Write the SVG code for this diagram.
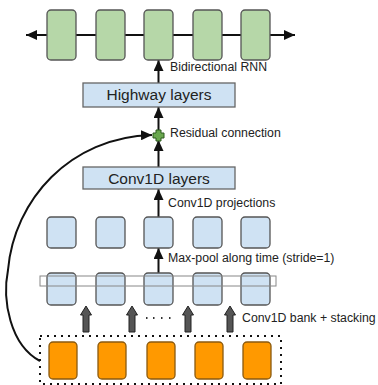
<svg xmlns="http://www.w3.org/2000/svg" width="378" height="385" viewBox="0 0 378 385">
<defs>
<style>
text{font-family:"Liberation Sans",Arial,sans-serif;fill:#222}
.lbl{font-size:12.3px}
.big{font-size:15.5px}
.green{fill:#b6d7a8;stroke:#555;stroke-width:1.3}
.blue{fill:#cfe2f3;stroke:#555;stroke-width:1.3}
.orange{fill:#ff9900;stroke:#8a5a10;stroke-width:1.3}
.layer{fill:#cfe2f3;stroke:#666;stroke-width:1.3}
.line{fill:none;stroke:#111;stroke-width:2}
.gray{fill:#555;stroke:#222;stroke-width:1}
</style>
<marker id="ah" markerUnits="userSpaceOnUse" markerWidth="12" markerHeight="10" refX="11" refY="5" orient="auto">
<path d="M0,0 L11,5 L0,10 z" fill="#111"/>
</marker>
</defs>
<rect width="378" height="385" fill="#fff"/>

<g id="connectors">
<line class="line" x1="47" y1="35" x2="26" y2="35" marker-end="url(#ah)"/>
<line class="line" x1="270" y1="35" x2="295" y2="35" marker-end="url(#ah)"/>
<line class="line" x1="76" y1="35" x2="96" y2="35"/>
<line class="line" x1="125" y1="35" x2="144" y2="35"/>
<line class="line" x1="173" y1="35" x2="193" y2="35"/>
<line class="line" x1="222" y1="35" x2="241" y2="35"/>
<line class="line" x1="158.5" y1="83" x2="158.5" y2="60" marker-end="url(#ah)"/>
<line class="line" x1="158.5" y1="130" x2="158.5" y2="107" marker-end="url(#ah)"/>
<line class="line" x1="158.5" y1="167" x2="158.5" y2="140" marker-end="url(#ah)"/>
<line class="line" x1="158.5" y1="217" x2="158.5" y2="189" marker-end="url(#ah)"/>
<line class="line" x1="158.5" y1="273" x2="158.5" y2="248" marker-end="url(#ah)"/>
<path class="line" d="M40,361 C10,345 2,300 8,270 C14,200 70,137 152,135" marker-end="url(#ah)"/>
<g id="bank-arrows">
<path class="gray" d="M86,306 L91.5,315 L89,315 L89,332 L83,332 L83,315 L80.5,315 z"/>
<path class="gray" d="M132,306 L137.5,315 L135,315 L135,332 L129,332 L129,315 L126.5,315 z"/>
<path class="gray" d="M188,306 L193.5,315 L191,315 L191,332 L185,332 L185,315 L182.5,315 z"/>
<path class="gray" d="M230,306 L235.5,315 L233,315 L233,332 L227,332 L227,315 L224.5,315 z"/>
</g>
</g>

<g id="rnn">
<rect class="green" x="47" y="10" width="29" height="50" rx="4"/>
<rect class="green" x="96" y="10" width="29" height="50" rx="4"/>
<rect class="green" x="144" y="10" width="29" height="50" rx="4"/>
<rect class="green" x="193" y="10" width="29" height="50" rx="4"/>
<rect class="green" x="241" y="10" width="29" height="50" rx="4"/>
<text class="lbl" x="170" y="71">Bidirectional RNN</text>
</g>

<g id="highway">
<rect class="layer" x="83" y="83" width="152" height="24"/>
<text class="big" x="159" y="100" text-anchor="middle">Highway layers</text>
</g>

<g id="residual">
<path d="M156,130 h5 v3 h3 v5 h-3 v3 h-5 v-3 h-3 v-5 h3 z" fill="#6aa84f" stroke="#2d5a1e" stroke-width="1"/>
<text class="lbl" x="170" y="137">Residual connection</text>
</g>

<g id="conv1d-layers">
<rect class="layer" x="83" y="167" width="152" height="22"/>
<text class="big" x="159" y="183.5" text-anchor="middle">Conv1D layers</text>
</g>

<g id="projections">
<text class="lbl" x="168" y="207">Conv1D projections</text>
<rect class="blue" x="47" y="217" width="29" height="31" rx="4"/>
<rect class="blue" x="96" y="217" width="29" height="31" rx="4"/>
<rect class="blue" x="144" y="217" width="29" height="31" rx="4"/>
<rect class="blue" x="193" y="217" width="29" height="31" rx="4"/>
<rect class="blue" x="241" y="217" width="29" height="31" rx="4"/>
</g>

<g id="maxpool">
<text class="lbl" x="168" y="262">Max-pool along time (stride=1)</text>
<rect class="blue" x="47" y="273" width="29" height="32" rx="4"/>
<rect class="blue" x="96" y="273" width="29" height="32" rx="4"/>
<rect class="blue" x="144" y="273" width="29" height="32" rx="4"/>
<rect class="blue" x="193" y="273" width="29" height="32" rx="4"/>
<rect class="blue" x="241" y="273" width="29" height="32" rx="4"/>
<rect x="40" y="276" width="236" height="10" fill="none" stroke="#888" stroke-width="1"/>
</g>

<g id="bank">
<text class="lbl" x="242" y="322">Conv1D bank + stacking</text>
<path d="M146,318 h1.5 M153,318 h1.5 M161,318 h1.5 M169,318 h1.5" stroke="#333" stroke-width="2"/>
</g>

<g id="inputs">
<rect x="40" y="336" width="241" height="48" fill="none" stroke="#111" stroke-width="2" stroke-dasharray="2 5"/>
<rect class="orange" x="49" y="342" width="28" height="37" rx="4"/>
<rect class="orange" x="98" y="342" width="28" height="37" rx="4"/>
<rect class="orange" x="147" y="342" width="28" height="37" rx="4"/>
<rect class="orange" x="195" y="342" width="28" height="37" rx="4"/>
<rect class="orange" x="243" y="342" width="28" height="37" rx="4"/>
</g>
</svg>
